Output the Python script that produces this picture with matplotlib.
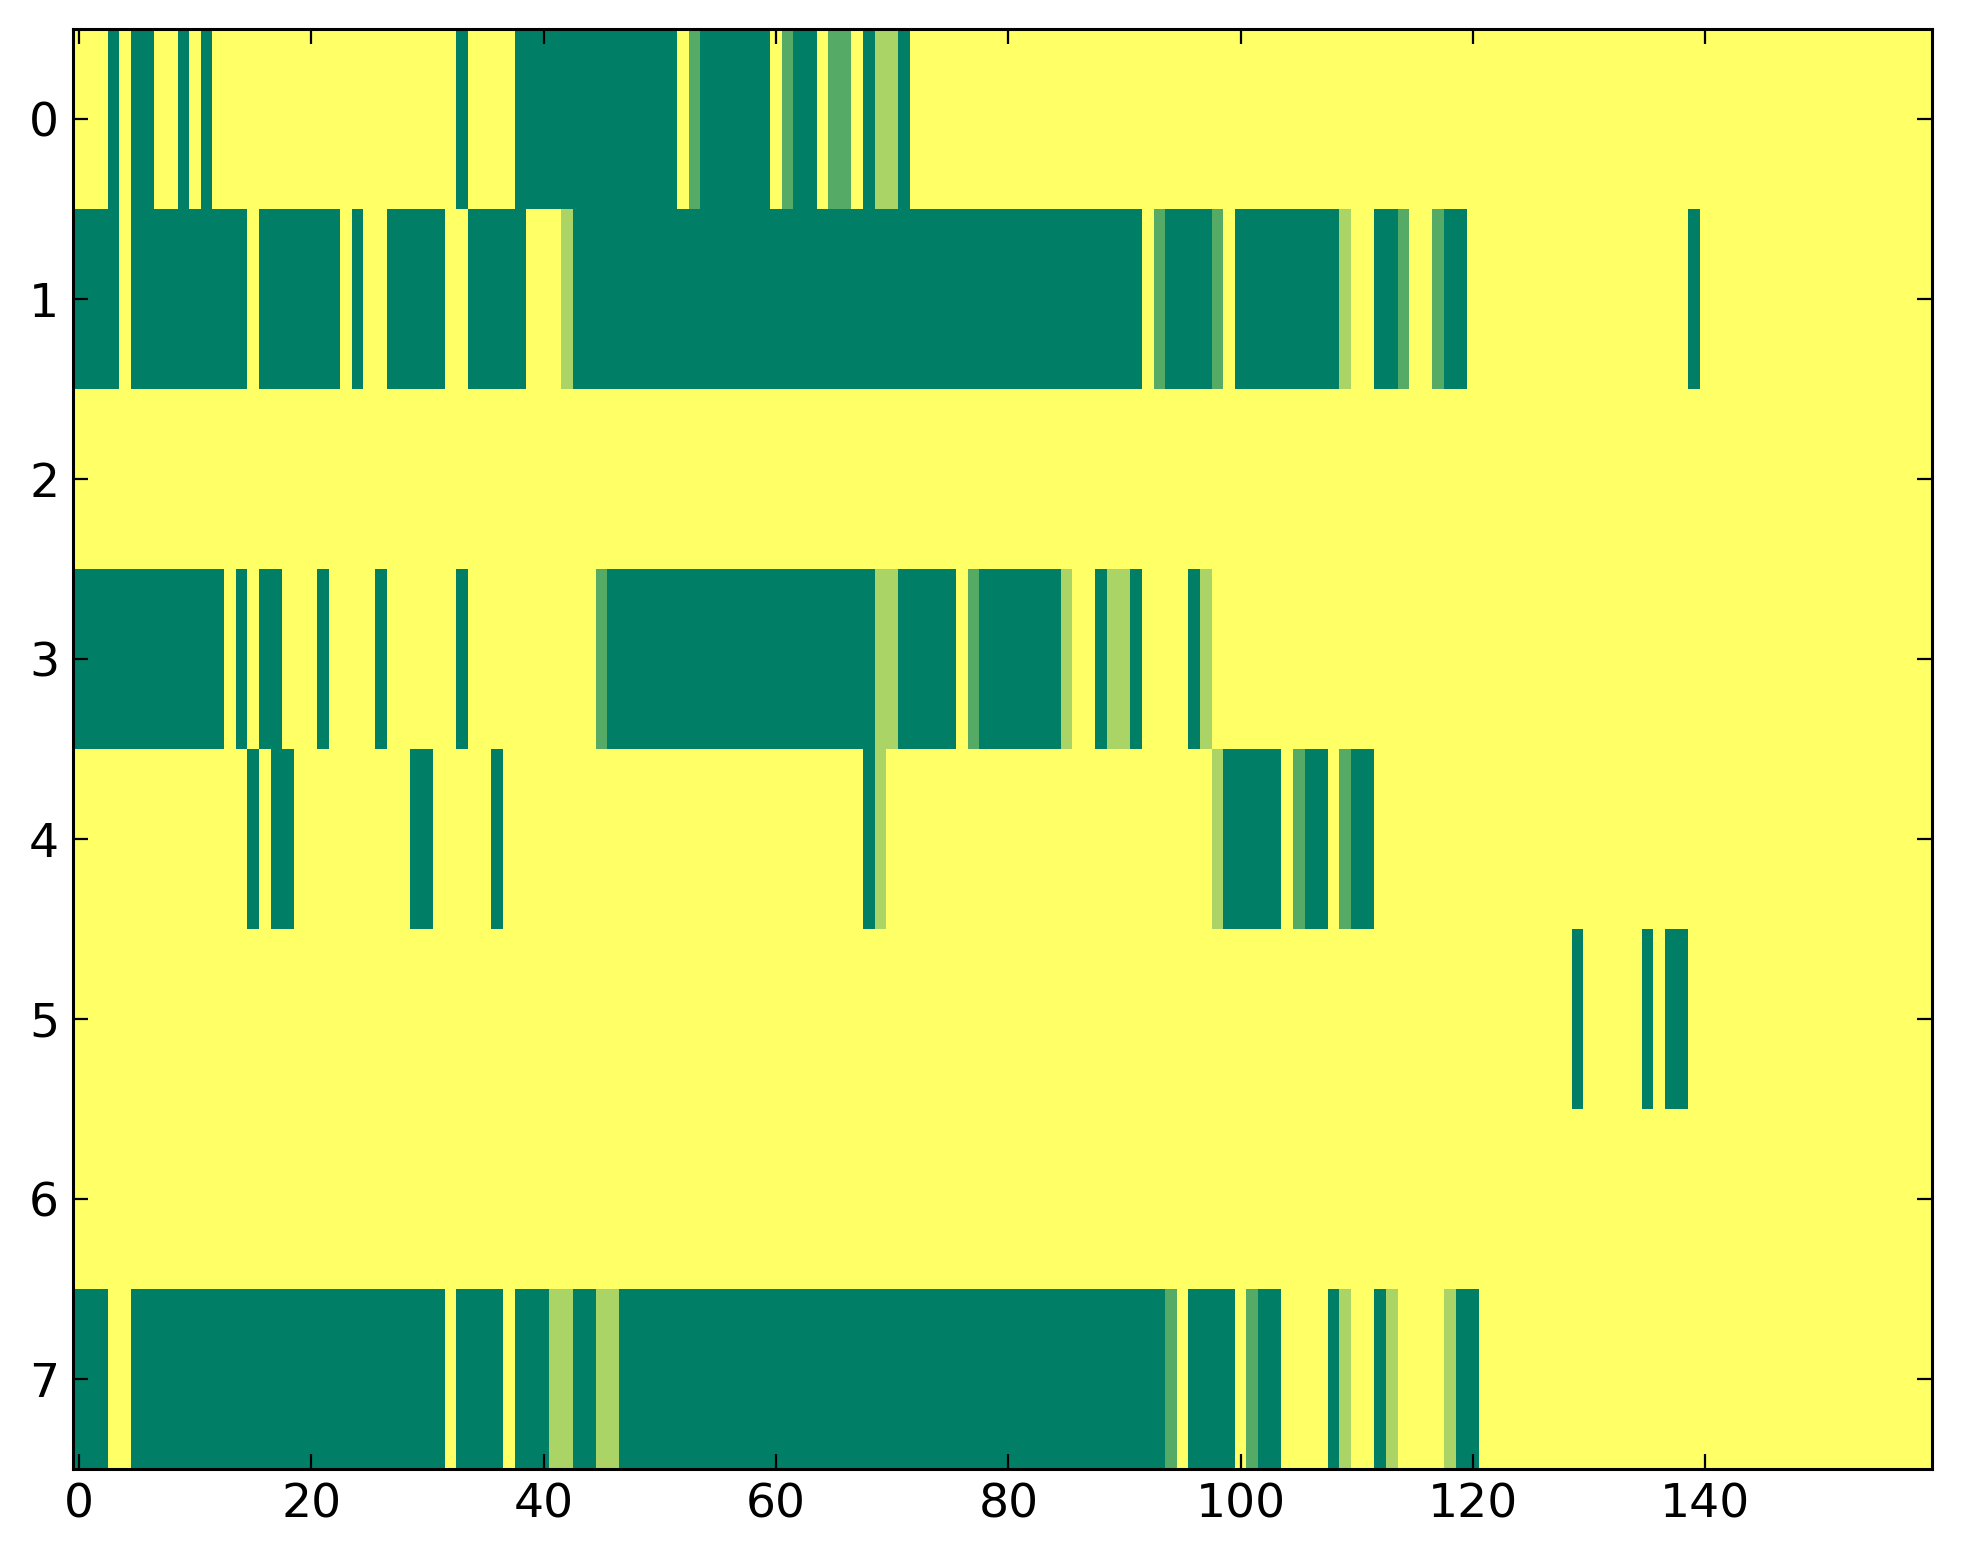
import numpy as np
import matplotlib
matplotlib.use("Agg")
import matplotlib.pyplot as plt

# runs of (value, count) for each row, 160 columns each
row0 = [(0, 3), (3, 1), (0, 1), (3, 2), (0, 2), (3, 1), (0, 1), (3, 1), (0, 21), (3, 1), (0, 4),
        (3, 14), (0, 1), (2, 1), (3, 6), (0, 1), (2, 1), (3, 2), (0, 1), (2, 2), (0, 1), (3, 1),
        (1, 2), (3, 1), (0, 88)]
row1 = [(3, 4), (0, 1), (3, 10), (0, 1), (3, 7), (0, 1), (3, 1), (0, 2), (3, 5), (0, 2), (3, 5),
        (0, 3), (1, 1), (3, 49), (0, 1), (2, 1), (3, 4), (2, 1), (0, 1), (3, 9), (1, 1), (0, 2),
        (3, 2), (2, 1), (0, 2), (2, 1), (3, 2), (0, 19), (3, 1), (0, 20)]
row2 = [(0, 160)]
row3 = [(3, 13), (0, 1), (3, 1), (0, 1), (3, 2), (0, 3), (3, 1), (0, 4), (3, 1), (0, 6), (3, 1),
        (0, 11), (2, 1), (3, 23), (1, 2), (3, 5), (0, 1), (2, 1), (3, 7), (1, 1), (0, 2), (3, 1),
        (1, 2), (3, 1), (0, 4), (3, 1), (1, 1), (0, 62)]
row4 = [(0, 15), (3, 1), (0, 1), (3, 2), (0, 10), (3, 2), (0, 5), (3, 1), (0, 31), (3, 1), (1, 1),
        (0, 28), (1, 1), (3, 5), (0, 1), (2, 1), (3, 2), (0, 1), (2, 1), (3, 2), (0, 48)]
row5 = [(0, 129), (3, 1), (0, 5), (3, 1), (0, 1), (3, 2), (0, 21)]
row6 = [(0, 160)]
row7 = [(3, 3), (0, 2), (3, 27), (0, 1), (3, 4), (0, 1), (3, 3), (1, 2), (3, 2), (1, 2), (3, 47),
        (2, 1), (0, 1), (3, 4), (0, 1), (2, 1), (3, 2), (0, 4), (3, 1), (1, 1), (0, 2), (3, 1),
        (1, 1), (0, 4), (1, 1), (3, 2), (0, 39)]

rows = [row0, row1, row2, row3, row4, row5, row6, row7]
x_ticks = [0, 20, 40, 60, 80, 100, 120, 140]
y_ticks = list(range(8))


def expand(runs):
    vals = [v for v, n in runs]
    counts = [n for v, n in runs]
    return np.repeat(vals, counts)


grid = np.vstack([expand(r) for r in rows])

fig = plt.figure(figsize=(19.63, 15.64), dpi=100)
ax = fig.add_axes([0.0372, 0.0607, 0.947, 0.9207])

ax.imshow(grid, cmap="summer_r", vmin=0, vmax=3, aspect="auto", interpolation="nearest")

ax.set_xticks(x_ticks)
ax.set_yticks(y_ticks)
ax.tick_params(direction="in", length=11, width=1.6, labelsize=34,
               top=True, right=True, pad=10)
for s in ax.spines.values():
    s.set_linewidth(2.2)

fig.savefig("out.png", dpi=100)
